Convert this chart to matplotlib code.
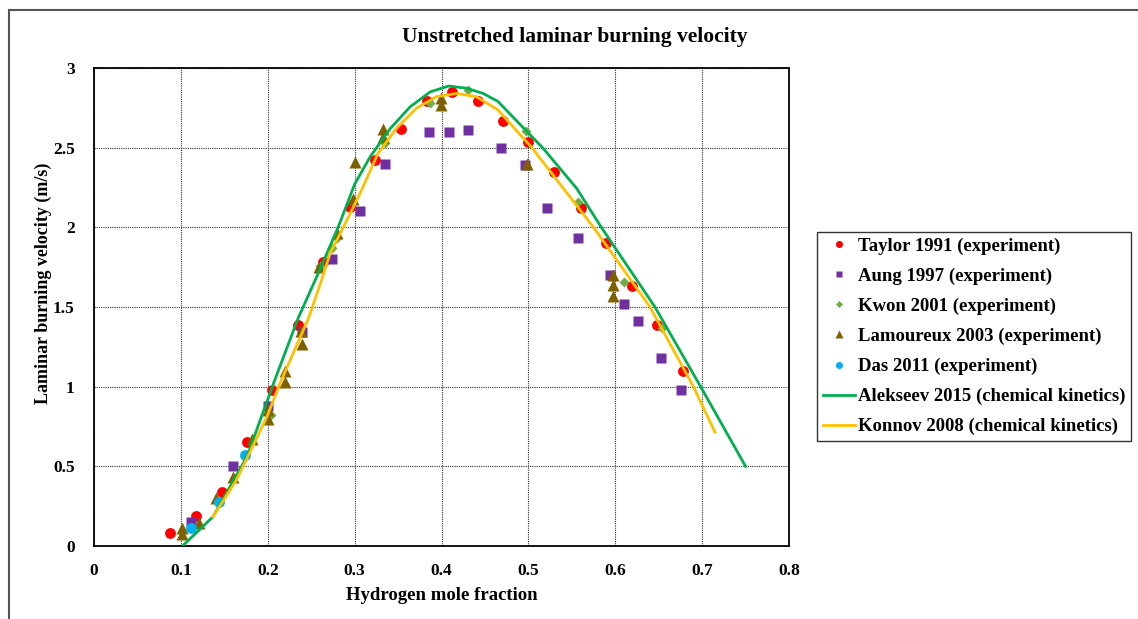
import matplotlib
matplotlib.use("Agg")
import matplotlib.pyplot as plt
from matplotlib.lines import Line2D

plt.rcParams["font.family"] = ["Liberation Serif", "DejaVu Serif"]
plt.rcParams["font.weight"] = "bold"

# --- data ---
taylor_x = [0.0875, 0.117, 0.147, 0.176, 0.205, 0.235, 0.264, 0.295, 0.3235, 0.353,
            0.383, 0.4125, 0.4415, 0.471, 0.500, 0.529, 0.560, 0.589, 0.619, 0.648, 0.678]
taylor_y = [0.08, 0.19, 0.34, 0.65, 0.98, 1.39, 1.78, 2.13, 2.42, 2.62,
            2.795, 2.85, 2.79, 2.67, 2.535, 2.345, 2.12, 1.90, 1.63, 1.385, 1.10]

aung_x = [0.112, 0.160, 0.2007, 0.2398, 0.2745, 0.306, 0.3346, 0.386, 0.4086, 0.430,
          0.468, 0.496, 0.521, 0.5567, 0.5935, 0.6106, 0.626, 0.6527, 0.676]
aung_y = [0.153, 0.50, 0.88, 1.345, 1.80, 2.10, 2.40, 2.60, 2.60, 2.61,
          2.50, 2.39, 2.12, 1.93, 1.70, 1.52, 1.41, 1.18, 0.98]

kwon_x = [0.2034, 0.260, 0.2745, 0.280, 0.3346, 0.387, 0.430, 0.497, 0.5567, 0.6106, 0.6535]
kwon_y = [0.82, 1.76, 1.87, 1.93, 2.53, 2.78, 2.86, 2.607, 2.157, 1.66, 1.37]

lam_x = [0.101, 0.101, 0.1205, 0.140, 0.160, 0.1815, 0.2007, 0.2007, 0.220, 0.220,
         0.238, 0.2394, 0.2594, 0.2794, 0.2985, 0.300, 0.333, 0.333, 0.3995, 0.3995,
         0.4988, 0.5978, 0.5978, 0.5978]
lam_y = [0.075, 0.11, 0.142, 0.30, 0.43, 0.67, 0.80, 0.854, 1.03, 1.10,
         1.35, 1.27, 1.753, 1.963, 2.18, 2.41, 2.565, 2.62, 2.765, 2.81,
         2.40, 1.70, 1.638, 1.571]

das_x = [0.112, 0.144, 0.1735]
das_y = [0.113, 0.276, 0.569]

alek_x = [0.103, 0.137, 0.176, 0.208, 0.235, 0.258, 0.281, 0.300, 0.318, 0.341, 0.364,
          0.387, 0.408, 0.429, 0.448, 0.465, 0.517, 0.5555, 0.584, 0.6457, 0.6983, 0.750]
alek_y = [0.006, 0.184, 0.56, 1.04, 1.43, 1.71, 2.0, 2.27, 2.444, 2.62, 2.757,
          2.85, 2.887, 2.873, 2.84, 2.79, 2.496, 2.245, 2.0, 1.5, 1.0, 0.50]

kon_x = [0.137, 0.164, 0.199, 0.214, 0.247, 0.262, 0.272, 0.287, 0.306, 0.327, 0.348,
         0.371, 0.394, 0.4175, 0.440, 0.465, 0.504, 0.575, 0.640, 0.690, 0.7148]
kon_y = [0.184, 0.414, 0.81, 1.02, 1.43, 1.67, 1.84, 2.0, 2.21, 2.465, 2.62,
         2.747, 2.82, 2.84, 2.82, 2.737, 2.5, 2.0, 1.5, 1.0, 0.714]

x_ticks = [0, 0.1, 0.2, 0.3, 0.4, 0.5, 0.6, 0.7, 0.8]
y_ticks = [0, 0.5, 1, 1.5, 2, 2.5, 3]

fig = plt.figure(figsize=(11.38, 6.19), dpi=100)
ax = fig.add_axes([94 / 1138, 1 - 546 / 619, 695 / 1138, 478 / 619])

ax.plot(taylor_x, taylor_y, "o", color="#FF0000", ms=7.8, mec="none",
        label="Taylor 1991 (experiment)", zorder=3)
ax.plot(aung_x, aung_y, "s", color="#7030A0", ms=7.2, mec="none",
        label="Aung 1997 (experiment)", zorder=3)
ax.plot(kwon_x, kwon_y, "D", color="#70AD47", ms=5.5, mec="none",
        label="Kwon 2001 (experiment)", zorder=3)
ax.plot(lam_x, lam_y, "^", color="#7F6000", ms=8.2, mec="none",
        label="Lamoureux 2003 (experiment)", zorder=3)
ax.plot(das_x, das_y, "o", color="#00B0F0", ms=7.8, mec="none",
        label="Das 2011 (experiment)", zorder=3)
ax.plot(alek_x, alek_y, "-", color="#00B050", lw=2,
        label="Alekseev 2015 (chemical kinetics)", zorder=4)
ax.plot(kon_x, kon_y, "-", color="#FFC000", lw=2,
        label="Konnov 2008 (chemical kinetics)", zorder=4)

ax.set_xlim(0, 0.8)
ax.set_ylim(0, 3)
ax.set_xticks(x_ticks)
ax.set_xticklabels([f"{v:g}" for v in x_ticks])
ax.set_yticks(y_ticks)
ax.set_yticklabels([f"{v:g}" for v in y_ticks])
ax.tick_params(length=0, labelsize=12.5, pad=12)
ax.tick_params(axis="y", pad=14)
ax.grid(True, color="#303030", linestyle=(0, (1, 1)), lw=0.8)
for s in ax.spines.values():
    s.set_color("black")
    s.set_linewidth(1.3)

ax.set_xlabel("Hydrogen mole fraction", fontsize=13.5, fontweight="bold", labelpad=6)
ax.set_ylabel("Laminar burning velocity (m/s)", fontsize=13, fontweight="bold")
ax.yaxis.set_label_coords(-0.061, 0.55)
fig.text(575 / 1138, 1 - 37 / 619, "Unstretched laminar burning velocity",
         ha="center", va="center", fontsize=15.5, fontweight="bold")

leg = fig.legend(loc="upper left", bbox_to_anchor=(817 / 1138, 1 - 232 / 619),
                 fontsize=13.5, frameon=True, fancybox=False, markerscale=0.65,
                 handlelength=1.7, handletextpad=0.16, labelspacing=0.68,
                 borderpad=0.3, borderaxespad=0)
leg.get_frame().set_edgecolor("black")
leg.get_frame().set_linewidth(1.0)

# outer chart-area border (top and left only visible)
fig.add_artist(Line2D([9 / 1138, 1.0], [1 - 10 / 619] * 2, color="#555555", lw=1.5))
fig.add_artist(Line2D([9 / 1138] * 2, [0, 1 - 10 / 619], color="#555555", lw=1.5))

fig.savefig("out.png", dpi=100)
